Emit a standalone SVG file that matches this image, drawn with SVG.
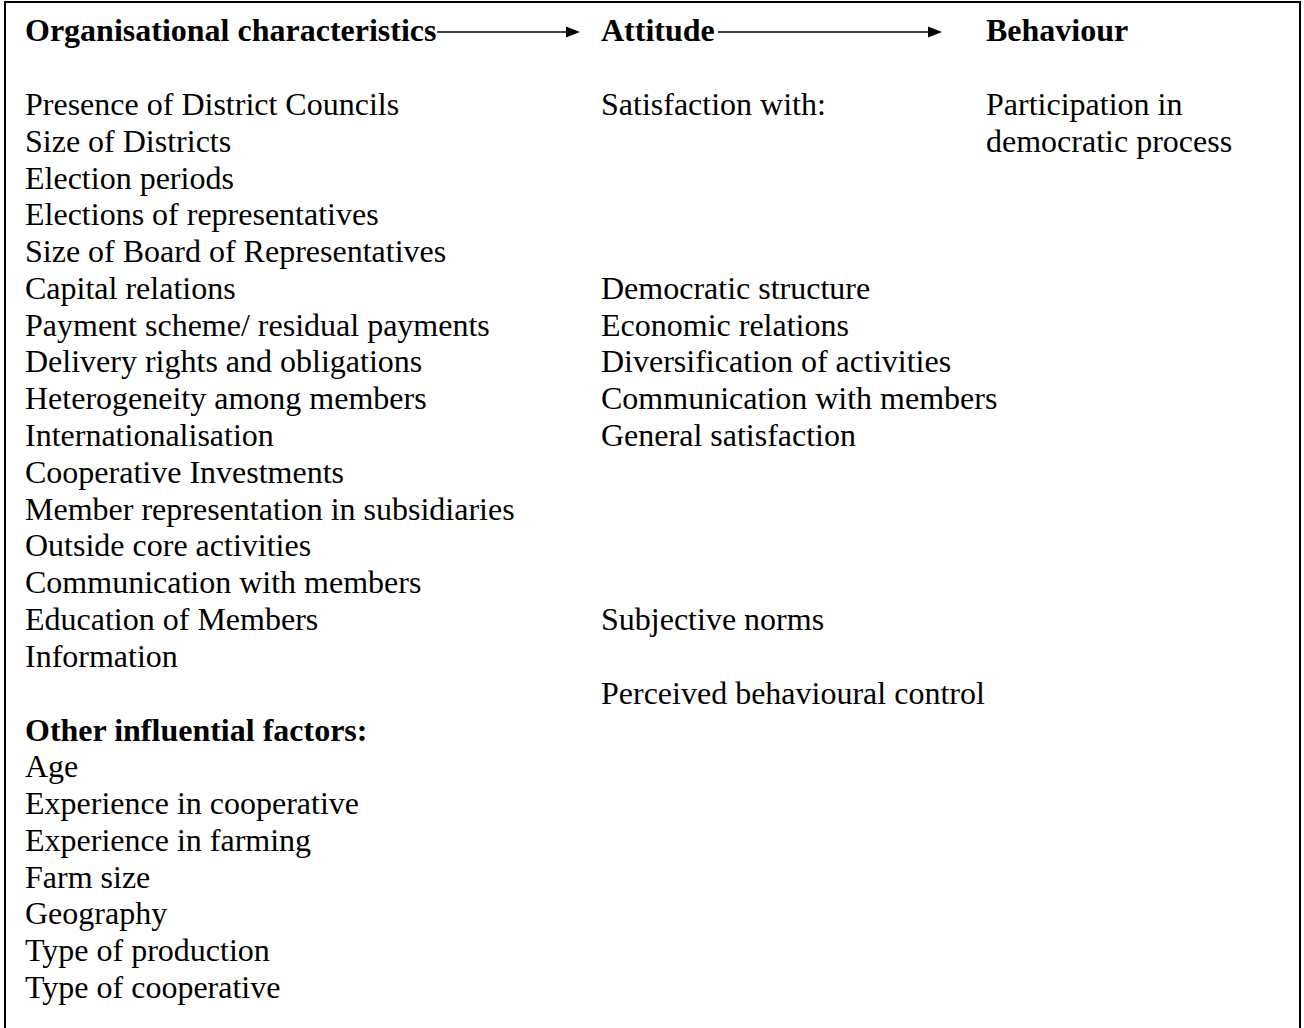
<svg xmlns="http://www.w3.org/2000/svg" width="1304" height="1028" viewBox="0 0 1304 1028">
<style>
text{font-family:"Liberation Serif","Times New Roman",serif;font-size:32px;fill:#000}
.b{font-weight:bold}
.c{stroke:#000;stroke-width:1.5;fill:none}
</style>
<rect x="0" y="0" width="1304" height="1028" fill="#fff"/>
<path d="M5,1100V2H1300V1100" fill="none" stroke="#000" stroke-width="2"/>
<g id="connectors">
<line class="c" x1="437" y1="32" x2="566" y2="32"/>
<path d="M566,26.5L580,32L566,37.5z" fill="#000"/>
<line class="c" x1="718" y1="32" x2="928" y2="32"/>
<path d="M928,26.5L942,32L928,37.5z" fill="#000"/>
</g>
<g id="organisational">
<text class="b" x="25" y="41">Organisational characteristics</text>
<text x="25" y="115">Presence of District Councils</text>
<text x="25" y="152">Size of Districts</text>
<text x="25" y="189">Election periods</text>
<text x="25" y="225">Elections of representatives</text>
<text x="25" y="262">Size of Board of Representatives</text>
<text x="25" y="299">Capital relations</text>
<text x="25" y="336">Payment scheme/ residual payments</text>
<text x="25" y="372">Delivery rights and obligations</text>
<text x="25" y="409">Heterogeneity among members</text>
<text x="25" y="446">Internationalisation</text>
<text x="25" y="483">Cooperative Investments</text>
<text x="25" y="520">Member representation in subsidiaries</text>
<text x="25" y="556">Outside core activities</text>
<text x="25" y="593">Communication with members</text>
<text x="25" y="630">Education of Members</text>
<text x="25" y="667">Information</text>
</g>
<g id="other">
<text class="b" x="25" y="741">Other influential factors:</text>
<text x="25" y="777">Age</text>
<text x="25" y="814">Experience in cooperative</text>
<text x="25" y="851">Experience in farming</text>
<text x="25" y="888">Farm size</text>
<text x="25" y="924">Geography</text>
<text x="25" y="961">Type of production</text>
<text x="25" y="998">Type of cooperative</text>
</g>
<g id="attitude">
<text class="b" x="601" y="41">Attitude</text>
<text x="601" y="115">Satisfaction with:</text>
<text x="601" y="299">Democratic structure</text>
<text x="601" y="336">Economic relations</text>
<text x="601" y="372">Diversification of activities</text>
<text x="601" y="409">Communication with members</text>
<text x="601" y="446">General satisfaction</text>
<text x="601" y="630">Subjective norms</text>
<text x="601" y="704">Perceived behavioural control</text>
</g>
<g id="behaviour">
<text class="b" x="986" y="41">Behaviour</text>
<text x="986" y="115">Participation in</text>
<text x="986" y="152">democratic process</text>
</g>
</svg>
